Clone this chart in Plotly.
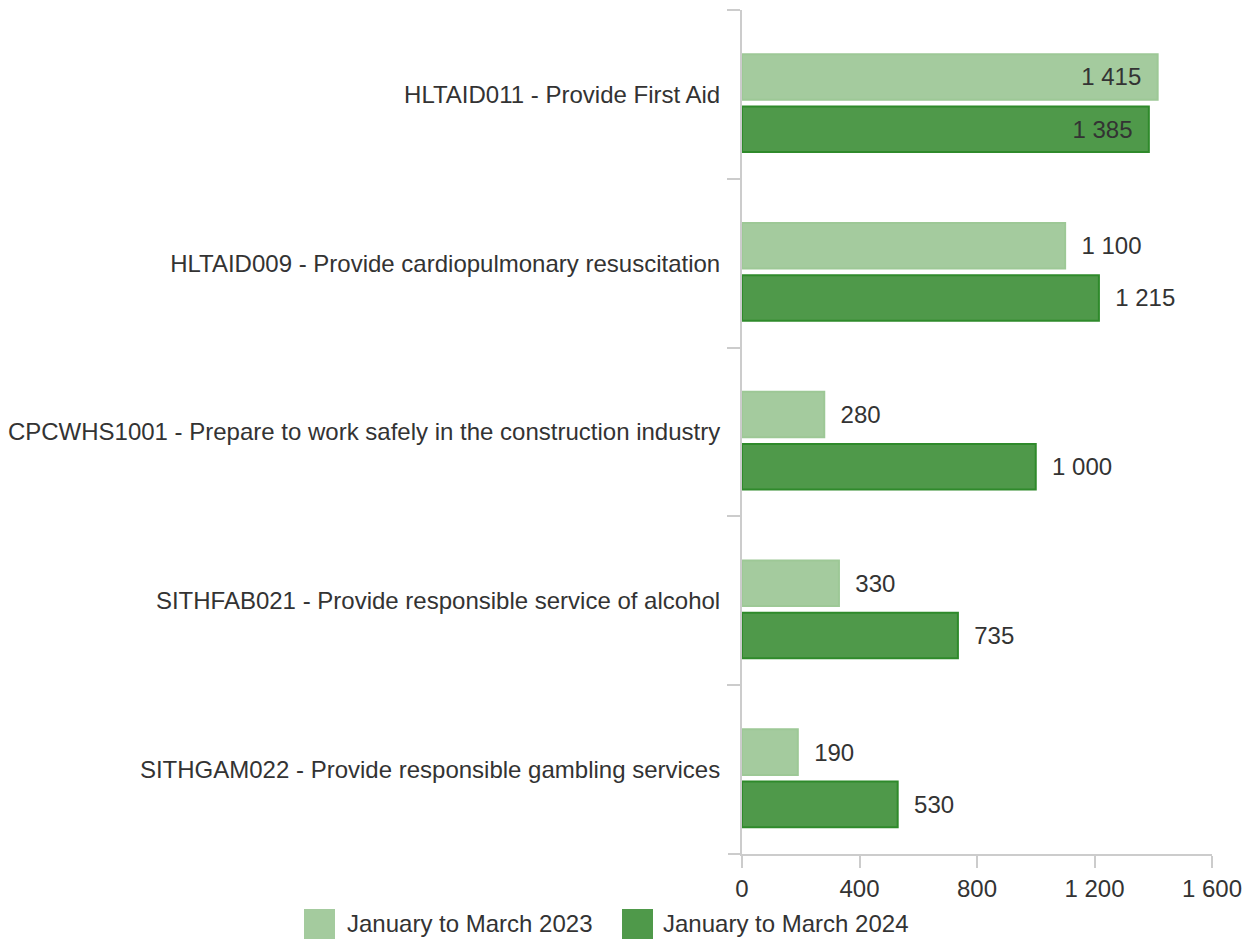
import plotly.graph_objects as go

categories = [
    "HLTAID011 - Provide First Aid",
    "HLTAID009 - Provide cardiopulmonary resuscitation",
    "CPCWHS1001 - Prepare to work safely in the construction industry",
    "SITHFAB021 - Provide responsible service of alcohol",
    "SITHGAM022 - Provide responsible gambling services",
]
values_2023 = [1415, 1100, 280, 330, 190]
values_2024 = [1385, 1215, 1000, 735, 530]
series_names = ["January to March 2023", "January to March 2024"]
series_colors = ["#A4CB9E", "#4F994A"]
series_borders = ["#9DC896", "#2F8A2B"]
x_ticks = [0, 400, 800, 1200, 1600]

FONT = "Arial, Liberation Sans, sans-serif"
TXT = "#333333"
FS = 24
NB = "\u00a0"
AXIS_COL = "#cccccc"

W, H = 1244, 940
L, R, T, B = 742, 1212, 10, 854

# bar placement within each category band (category units)
BAR_W = 0.27
BAR_OFFSETS = [-0.2385, 0.071]


def positions(vals):
    return ["inside" if v > 1300 else "outside" for v in vals]


def templates(vals):
    return [("%{x:,}" + NB * 2) if v > 1300 else (NB * 2 + "%{x:,}") for v in vals]


fig = go.Figure()
for name, vals, col, bcol, off in zip(series_names, [values_2023, values_2024],
                                      series_colors, series_borders, BAR_OFFSETS):
    fig.add_trace(go.Bar(
        y=categories, x=vals, orientation="h", name=name, showlegend=False,
        width=BAR_W, offset=off,
        marker=dict(color=col, line=dict(color=bcol, width=2)),
        texttemplate=templates(vals), textposition=positions(vals),
        insidetextanchor="end", constraintext="none",
        textfont=dict(size=FS, color=TXT, family=FONT), cliponaxis=False,
    ))


def px_x(p):
    return (p - L) / (R - L)


def px_y(p):
    return (B - p) / (B - T)


# custom legend (squares + labels), positions in pixels
legend_items = [(304, 345), (622, 661)]
shapes = [
    # x-axis line stub extending left of the y axis
    dict(type="line", xref="paper", yref="paper", x0=px_x(728), x1=0, y0=0, y1=0,
         line=dict(color=AXIS_COL, width=2)),
]
annotations = []
for (sq_x, tx_x), name, col in zip(legend_items, series_names, series_colors):
    shapes.append(dict(type="rect", xref="paper", yref="paper",
                       x0=px_x(sq_x), x1=px_x(sq_x + 31),
                       y0=px_y(909), y1=px_y(939),
                       fillcolor=col, line=dict(width=0)))
    annotations.append(dict(xref="paper", yref="paper", x=px_x(tx_x), y=px_y(924),
                            xanchor="left", yanchor="middle", showarrow=False,
                            text=name, font=dict(size=FS, color=TXT, family=FONT)))

fig.update_layout(
    width=W, height=H,
    margin=dict(l=L, r=W - R, t=T, b=H - B, autoexpand=False),
    paper_bgcolor="white", plot_bgcolor="white",
    barmode="group",
    separators=". ",
    font=dict(family=FONT, size=FS, color=TXT),
    showlegend=False,
    shapes=shapes, annotations=annotations,
    xaxis=dict(range=[0, 1600], tickvals=x_ticks, tickformat=",",
               showgrid=False, showline=True, linecolor=AXIS_COL, linewidth=2,
               ticks="outside", ticklen=12, tickcolor=AXIS_COL, tickwidth=2,
               zeroline=False, automargin=False,
               tickfont=dict(size=FS, color=TXT)),
    yaxis=dict(autorange="reversed", type="category", tickson="boundaries",
               showgrid=False, showline=True, linecolor=AXIS_COL, linewidth=2,
               ticks="outside", ticklen=13, tickcolor=AXIS_COL, tickwidth=2,
               automargin=False, ticklabelstandoff=15,
               tickfont=dict(size=FS, color=TXT)),
)

fig.write_html(
    "out.html",
    config={"displayModeBar": False},
    post_script="document.body.style.margin='0';document.body.style.overflow='hidden';",
)
